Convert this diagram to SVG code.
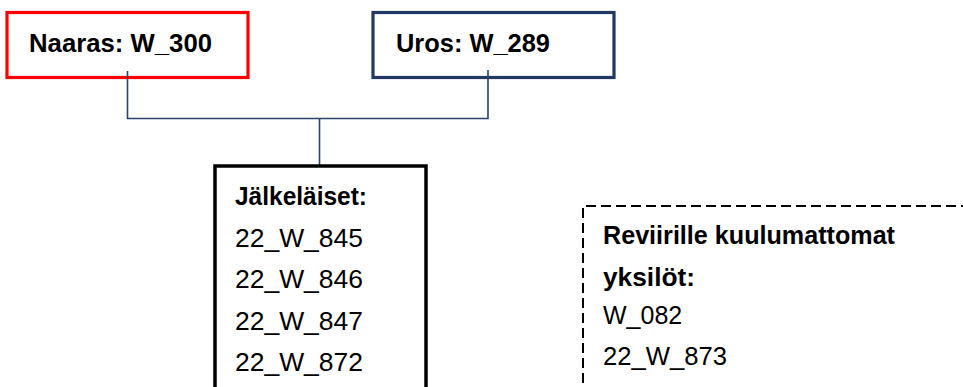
<svg xmlns="http://www.w3.org/2000/svg" width="963" height="387" viewBox="0 0 963 387">
<style>
text{font-family:"Liberation Sans",Arial,sans-serif;font-size:25px;fill:#000}
.b{font-weight:bold}
.conn{fill:none;stroke:#2a4468;stroke-width:1.6}
</style>
<rect width="963" height="387" fill="#fff"/>
<g id="connectors">
<path class="conn" d="M127.5,71 V118.5 H488 V70"/>
<path class="conn" d="M319.5,118.5 V166"/>
</g>
<g id="naaras">
<rect x="7" y="12.5" width="241" height="65" fill="#fff" stroke="#ff0000" stroke-width="3.2"/>
<text class="b" x="29" y="52" textLength="183" lengthAdjust="spacingAndGlyphs">Naaras: W_300</text>
</g>
<g id="uros">
<rect x="373" y="12.5" width="241" height="65" fill="#fff" stroke="#1f3864" stroke-width="3.2"/>
<text class="b" x="396" y="52" textLength="154" lengthAdjust="spacingAndGlyphs">Uros: W_289</text>
</g>
<path class="conn" d="M127.5,71 V78 M488,70 V78"/>
<g id="jalkelaiset">
<rect x="215" y="166" width="211" height="240" fill="#fff" stroke="#000" stroke-width="3.5"/>
<text class="b" x="235" y="205" textLength="132" lengthAdjust="spacingAndGlyphs">Jälkeläiset:</text>
<text x="235" y="246.5" textLength="128" lengthAdjust="spacingAndGlyphs">22_W_845</text>
<text x="235" y="288" textLength="128" lengthAdjust="spacingAndGlyphs">22_W_846</text>
<text x="235" y="329.5" textLength="128" lengthAdjust="spacingAndGlyphs">22_W_847</text>
<text x="235" y="371" textLength="128" lengthAdjust="spacingAndGlyphs">22_W_872</text>
</g>
<g id="reviiri">
<path d="M583,400 V206 H970" fill="none" stroke="#000" stroke-width="2" stroke-dasharray="10,5" stroke-dashoffset="-2"/>
<text class="b" x="603" y="244" textLength="292" lengthAdjust="spacingAndGlyphs">Reviirille kuulumattomat</text>
<text class="b" x="603" y="286" textLength="92" lengthAdjust="spacingAndGlyphs">yksilöt:</text>
<text x="603" y="324">W_082</text>
<text x="603" y="365" textLength="124" lengthAdjust="spacingAndGlyphs">22_W_873</text>
</g>
</svg>
